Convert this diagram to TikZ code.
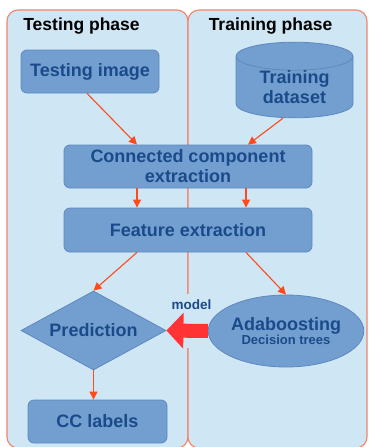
\documentclass[tikz,border=0pt]{standalone}
\usepackage{fontspec}
\setmainfont{Liberation Sans}
\usepackage{xcolor}
\usepackage{tikz}
\usetikzlibrary{shapes.geometric,arrows.meta}

\definecolor{panelfill}{HTML}{CFE6F4}
\definecolor{paneldraw}{HTML}{F4836A}
\definecolor{boxfill}{HTML}{729FCF}
\definecolor{boxdraw}{HTML}{5F88BF}
\definecolor{boxtext}{HTML}{1B4A8A}
\definecolor{flowred}{HTML}{FF4A1C}
\definecolor{modelred}{HTML}{FF3333}

\begin{document}
\begin{tikzpicture}[x=1pt,y=-1pt,
    panel/.style={draw=paneldraw,fill=panelfill,line width=1.1pt,rounded corners=11pt},
    phasetitle/.style={text=black,font=\fontsize{17.5}{20}\selectfont\bfseries},
    stage/.style={draw=boxdraw,fill=boxfill,line width=0.8pt,rounded corners=6pt,
        text=boxtext,font=\fontsize{18}{20}\selectfont\bfseries,align=center,inner sep=0pt},
    flow/.style={draw=flowred,line width=1.1pt,-{Triangle[length=8pt,width=8pt]}},
    modelarrow/.style={draw=modelred,line width=14pt,-{Triangle[length=17pt,width=35pt]}}]
			\useasboundingbox (0,0) rectangle (368,447);
			% Vẽ hai pha
			\draw[panel] (7,10) rectangle (188,448);
			\draw[panel] (188,10) rectangle (367,448);
			\fill[panelfill] (184,294) rectangle (192,348);
			\node[phasetitle] (testtitle) at (81.5,26) {Testing phase};
			\node[phasetitle] (traintitle) at (270.5,26) {Training phase};
			% Các khối
			\node[stage,minimum width=138pt,minimum height=43pt] (testimg) at (90,71.5) {Testing image};
			\node[stage,cylinder,shape border rotate=90,aspect=0.4,rounded corners=0pt,anchor=shape center,
			      minimum width=117pt,minimum height=64pt] (dataset) at (294.5,80) {Training\\dataset};
			\node[stage,minimum width=248pt,minimum height=43pt] (ccext) at (188,166.5) {Connected component\\extraction};
			\node[stage,minimum width=248pt,minimum height=44pt] (feat) at (188,230) {Feature extraction};
			\node[stage,diamond,aspect=1.84,rounded corners=0pt,minimum width=145pt,minimum height=79pt] (pred) at (93.5,330.5) {Prediction};
			\node[stage,ellipse,rounded corners=0pt,minimum width=137pt,minimum height=72pt] (ada) at (286,331)
			      {Adaboosting\\[-6pt]{\fontsize{13}{15}\selectfont Decision trees}};
			\node[stage,minimum width=139pt,minimum height=43pt] (cclabels) at (97.5,421.5) {CC labels};
			% Vẽ mũi tên
			\draw[flow] ([xshift=-3pt]testimg.south) -- ([xshift=-51pt]ccext.north);
			\draw[flow] ([xshift=-11.5pt]dataset.south) -- ([xshift=60pt]ccext.north);
			\foreach \dx in {-51,58}
			\draw[flow] ([xshift=\dx pt]ccext.south) -- ([xshift=\dx pt]feat.north);
			\draw[flow] ([xshift=-51pt]feat.south) -- (pred.north);
			\draw[flow] ([xshift=58pt]feat.south) -- (ada.north);
			\draw[flow] (pred.south) -- (pred.south |- cclabels.north);
			\draw[modelarrow] (ada.west) -- (pred.east);
			\node[text=boxtext,font=\fontsize{13.5}{15}\selectfont\bfseries] (modeltxt) at (191.5,304.5) {model};
		\end{tikzpicture}
\end{document}
